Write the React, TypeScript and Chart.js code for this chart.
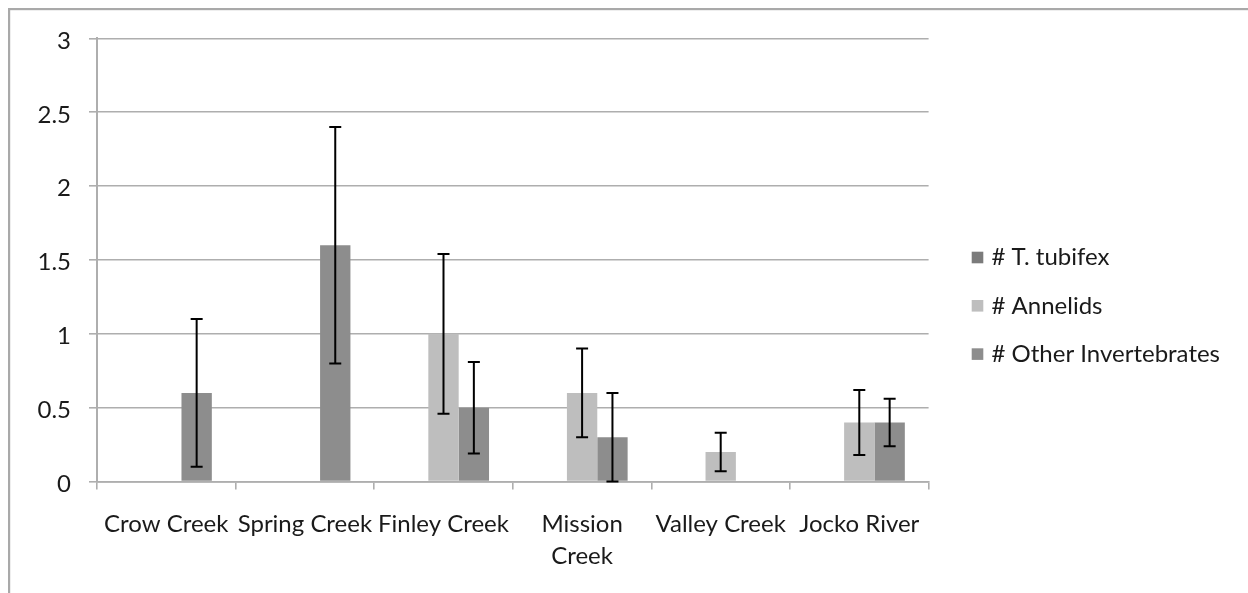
import React, { useEffect, useRef } from "react";
import { Chart, registerables } from "chart.js";

Chart.register(...registerables);

// ---- data ----
const categories: (string | string[])[] = [
  "Crow Creek",
  "Spring Creek",
  "Finley Creek",
  ["Mission", "Creek"],
  "Valley Creek",
  "Jocko River",
];
const seriesNames = ["# T. tubifex", "# Annelids", "# Other Invertebrates"];
const tubifex = [0, 0, 0, 0, 0, 0];
const tubifexErr = [0, 0, 0, 0, 0, 0];
const annelids = [0, 0, 1.0, 0.6, 0.2, 0.4];
const annelidsErr = [0, 0, 0.54, 0.3, 0.13, 0.22];
const other = [0.6, 1.6, 0.5, 0.3, 0, 0.4];
const otherErr = [0.5, 0.8, 0.31, 0.3, 0, 0.16];
const yTicks = [0, 0.5, 1, 1.5, 2, 2.5, 3];

const seriesColors = ["#7b7b7b", "#bebebe", "#8d8d8d"];
const FONT = "Lato";
const TEXT = "#1a1a1a";
const GRID = "#aeaeae";

const errorBarPlugin = {
  id: "errorBars",
  afterDatasetsDraw(chart: any) {
    const ctx = chart.ctx;
    const yScale = chart.scales.y;
    chart.data.datasets.forEach((ds: any, di: number) => {
      const errs: number[] = ds.errors;
      if (!errs) return;
      const meta = chart.getDatasetMeta(di);
      meta.data.forEach((bar: any, i: number) => {
        const v = ds.data[i] as number;
        const e = errs[i];
        if (!e) return;
        const x = bar.x;
        const yTop = yScale.getPixelForValue(v + e);
        const yBot = yScale.getPixelForValue(Math.max(0, v - e));
        ctx.save();
        ctx.strokeStyle = "#000";
        ctx.lineWidth = 2;
        ctx.beginPath();
        ctx.moveTo(x, yTop);
        ctx.lineTo(x, yBot);
        ctx.moveTo(x - 6, yTop);
        ctx.lineTo(x + 6, yTop);
        ctx.moveTo(x - 6, yBot);
        ctx.lineTo(x + 6, yBot);
        ctx.stroke();
        ctx.restore();
      });
    });
  },
};

const framePlugin = {
  id: "frame",
  beforeDraw(chart: any) {
    const ctx = chart.ctx;
    ctx.save();
    ctx.fillStyle = "#ffffff";
    ctx.fillRect(0, 0, chart.width, chart.height);
    ctx.fillStyle = "#a9a9a9";
    ctx.fillRect(8, 8, 2.2, chart.height);
    ctx.fillRect(8, 8, chart.width, 2.2);
    ctx.restore();
  },
};

const legendPlugin = {
  id: "customLegend",
  afterDraw(chart: any) {
    const ctx = chart.ctx;
    const startY = 257.5;
    const step = 48.3;
    ctx.save();
    ctx.font = `24px ${FONT}`;
    ctx.textBaseline = "middle";
    ctx.textAlign = "left";
    chart.data.datasets.forEach((ds: any, i: number) => {
      const cy = startY + i * step;
      ctx.fillStyle = ds.backgroundColor;
      ctx.fillRect(971.7, cy - 5.8, 11.6, 11.6);
      ctx.fillStyle = TEXT;
      ctx.fillText(ds.label, 991.5, cy);
    });
    ctx.restore();
  },
};

export default function App() {
  const canvasRef = useRef<HTMLCanvasElement | null>(null);

  useEffect(() => {
    let chart: Chart | null = null;
    let cancelled = false;
    const build = () => {
      if (cancelled || !canvasRef.current) return;
      chart = new Chart(canvasRef.current, {
        type: "bar",
        data: {
          labels: categories as any,
          datasets: [
            { label: seriesNames[0], data: tubifex, errors: tubifexErr, backgroundColor: seriesColors[0] } as any,
            { label: seriesNames[1], data: annelids, errors: annelidsErr, backgroundColor: seriesColors[1] } as any,
            { label: seriesNames[2], data: other, errors: otherErr, backgroundColor: seriesColors[2] } as any,
          ],
        },
        options: {
          animation: false,
          responsive: true,
          maintainAspectRatio: false,
          layout: { padding: { left: 0, top: 38.3, right: 319.4, bottom: 0 } },
          datasets: { bar: { categoryPercentage: 0.657, barPercentage: 1.0, borderWidth: 0 } },
          plugins: {
            legend: { display: false },
            tooltip: { enabled: false },
            title: { display: false },
          },
          scales: {
            x: {
              offset: true,
              grid: {
                offset: true,
                drawOnChartArea: false,
                drawTicks: true,
                tickLength: 8,
                color: GRID,
                lineWidth: 1.6,
              },
              border: { display: true, color: GRID, width: 1.8 },
              ticks: {
                autoSkip: false,
                maxRotation: 0,
                minRotation: 0,
                padding: 19,
                color: TEXT,
                font: { family: FONT, size: 24, lineHeight: 1.333 },
              },
              afterFit(scale: any) {
                scale.height = 111.4;
              },
            },
            y: {
              min: 0,
              max: 3,
              grid: {
                drawTicks: true,
                tickLength: 8,
                color: GRID,
                lineWidth: 1.6,
              },
              border: { display: true, color: GRID, width: 2 },
              ticks: {
                padding: 18,
                labelOffset: 2.6,
                color: TEXT,
                font: { family: FONT, size: 24 },
                callback: (v: any) => String(v),
              },
              afterBuildTicks(scale: any) {
                scale.ticks = yTicks.map((v) => ({ value: v }));
              },
              afterFit(scale: any) {
                scale.width = 97;
              },
            },
          },
        } as any,
        plugins: [framePlugin, errorBarPlugin, legendPlugin],
      });
    };
    const fontsApi: any = (document as any).fonts;
    if (fontsApi && fontsApi.load) {
      fontsApi.load(`24px ${FONT}`).then(build, build);
    } else {
      build();
    }
    return () => {
      cancelled = true;
      if (chart) chart.destroy();
    };
  }, []);

  return (
    <div style={{ position: "fixed", left: 0, top: 0, width: 1248, height: 593, background: "#fff" }}>
      <canvas ref={canvasRef} />
    </div>
  );
}
